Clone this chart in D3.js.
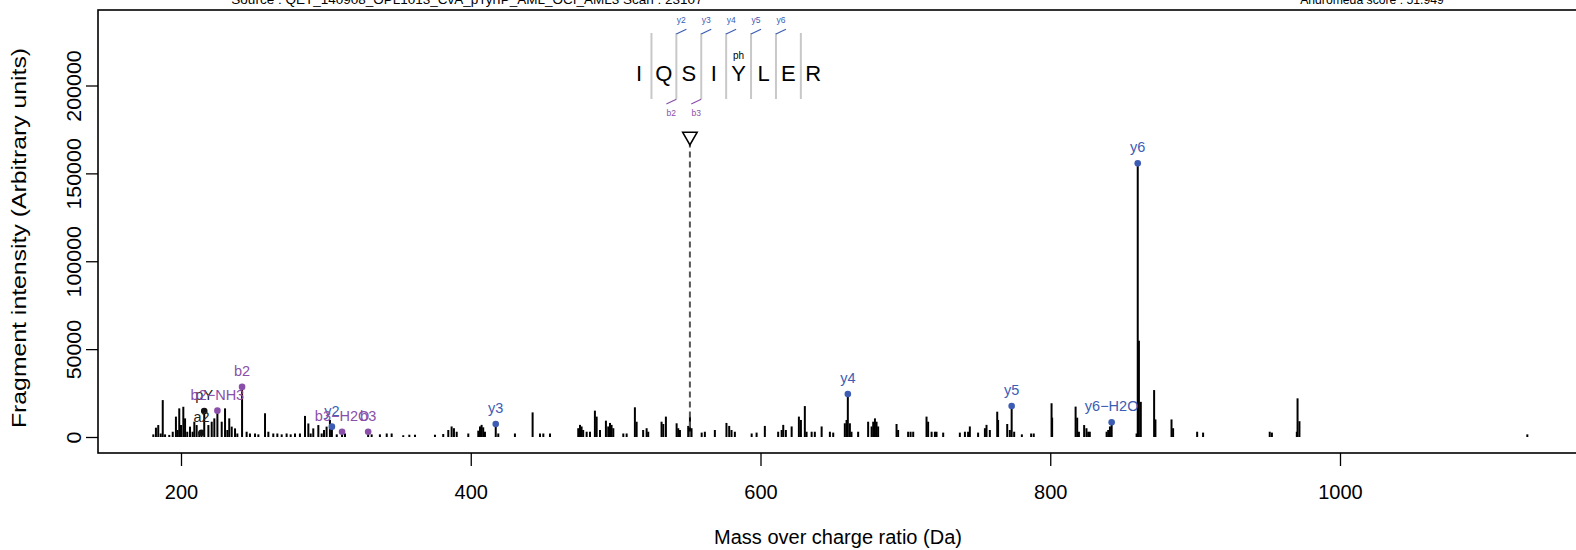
<!DOCTYPE html>
<html><head><meta charset="utf-8">
<script src="https://cdn.jsdelivr.net/npm/d3@7"></script>
<style>body{margin:0;background:#fff}svg{display:block}text{font-family:"Liberation Sans",Arial,sans-serif}</style>
</head><body><div id="chart"></div>
<script>
const peakMz = [180.9,182.7,184.3,186.0,187.4,189.0,191.9,194.3,196.5,197.7,198.8,200.0,201.6,202.8,204.3,206.2,208.0,209.2,210.8,212.6,214.15,216.04,218.9,221.2,223.0,225.12,228.1,230.4,232.0,233.3,235.0,237.3,238.9,242.15,245.3,247.6,251.1,253.4,258.0,260.3,263.7,266.5,269.5,272.9,275.7,278.7,282.1,285.6,287.9,289.5,291.3,294.8,297.1,298.7,300.5,302.8,304.16,307.5,311.17,313.2,329.18,331.6,337.3,342.0,345.4,353.4,357.6,361.5,375.3,381.0,384.5,386.8,388.4,390.3,398.3,405.2,406.4,407.5,408.6,409.8,417.25,419.0,430.5,442.7,447.8,450.1,454.7,474.2,475.4,476.5,477.6,480.0,482.3,485.7,486.9,489.2,493.3,494.9,496.1,497.2,498.4,505.3,507.6,513.3,514.5,519.0,521.4,522.5,531.7,532.9,534.7,542.1,543.2,544.4,550.1,551.3,552.4,559.4,561.6,568.5,576.5,578.4,580.0,582.3,593.9,597.3,603.0,612.2,614.6,615.7,617.5,621.5,626.5,627.9,630.6,631.8,635.3,637.5,642.2,647.9,650.2,658.2,659.4,660.28,661.7,662.8,667.4,674.3,676.7,677.8,679.0,680.1,681.2,693.9,695.0,701.9,703.6,705.4,714.6,715.7,718.1,720.4,721.5,726.1,737.6,741.1,743.3,744.5,750.2,754.9,756.0,758.3,763.4,764.0,770.3,772.1,773.36,775.1,780.4,786.8,788.6,800.9,801.3,817.5,818.6,819.8,823.4,825.0,826.2,827.3,838.9,840.0,841.2,842.38,859.6,860.39,861.2,862.5,871.7,872.6,883.7,884.8,901.4,905.5,951.5,953.0,970.2,970.7,972.0,1129.3];
const peakIntensity = [1500,5300,6800,2000,21000,1500,1200,3000,11600,4000,16300,6800,17200,10600,3000,5900,3000,8700,6800,3000,2400,14800,6800,8700,10600,15000,8700,16300,4000,10600,5900,4900,2000,28500,3000,2000,2000,1500,13500,3000,2000,2000,1500,2000,1500,2000,2000,12000,7700,2000,4900,6800,2000,4000,5900,9700,5900,1500,3000,2000,3000,1500,1500,2000,2000,1000,1300,1300,1300,1700,4000,6000,5000,3000,2000,3600,6000,6900,5500,3000,7400,2000,2000,14000,2000,2000,2000,5000,6900,6000,4000,3000,3000,15000,11600,4000,9300,6000,8000,6900,5000,2000,2000,16900,8700,4000,5000,3000,8700,7400,11600,7800,5000,4000,6300,11600,5000,2500,3000,4000,8000,6300,4000,3000,2000,2500,6300,3000,4000,6900,4000,6000,11600,9700,17600,3000,3000,3000,6000,3000,2500,7800,9700,24500,7800,3000,3000,8700,6000,8700,10600,8700,6000,7400,4000,3000,3000,3000,11600,8700,3000,3000,3000,2500,2500,3000,3000,6000,2500,5000,6900,4000,14400,9700,7400,4000,17600,3000,1500,2000,2000,19200,11000,17300,11000,3000,6800,5000,3000,3000,3000,4000,6000,8400,2000,155700,54800,20000,26700,10000,10000,5000,3000,2500,3000,2500,3000,22000,9000,1500];

const ionLabels = ["a2","pY","b2\u2212NH3","b2","y2","b3\u2212H2O","b3","y3","y4","y5","y6\u2212H2O","y6"];
const ionMz = [214.15,216.04,225.12,242.15,304.16,311.17,329.18,417.25,660.28,773.36,842.38,860.39];
const ionIntensity = [2400,14800,15000,28500,5900,3000,3000,7400,24500,17600,8400,155700];
const ionType = ["other","other","b","b","y","b","b","y","y","y","y","y"];

const precursorMz = 551.27;
const precursorIntensity = 171000;

const sequence = ["I","Q","S","I","Y","L","E","R"];
const modLabels = ["","","","","ph","","",""];
const yMarkLabels = ["y2","y3","y4","y5","y6"];
const bMarkLabels = ["b2","b3"];

const xTicks = [200,400,600,800,1000];
const yTicks = [0,50000,100000,150000,200000];

const titleLeft = "Source : QET_140908_OPL1013_CvA_pTyrIP_AML_OCI_AML3   Scan : 23107";
const titleRight = "Andromeda score : 51.949";
const xTitle = "Mass over charge ratio (Da)";
const yTitle = "Fragment intensity (Arbitrary units)";

const W = 1576, H = 550;
const colors = {y:"#3c5db3", b:"#8a4fa8", other:"#111"};
const box = {left:98, top:10, right:1590, bottom:453};

const x = d3.scaleLinear().domain([200,1000]).range([181,1340]);
const y = d3.scaleLinear().domain([0,200000]).range([437,85.5]);

const svg = d3.select("#chart").append("svg").attr("width",W).attr("height",H);
svg.append("rect").attr("width",W).attr("height",H).attr("fill","#fff");

// titles (partly cut by the top edge, as in the reference)
svg.append("text").attr("x",467).attr("y",4).attr("text-anchor","middle").attr("font-size",13.5).attr("fill","#000").text(titleLeft);
svg.append("text").attr("x",1372).attr("y",4).attr("text-anchor","middle").attr("font-size",12.2).attr("fill","#000").text(titleRight);

// peaks
const peaks = peakMz.map((m,i)=>({mz:m, v:peakIntensity[i]}));
svg.append("g").selectAll("line").data(peaks).join("line")
  .attr("x1",d=>x(d.mz)).attr("x2",d=>x(d.mz))
  .attr("y1",y(0)).attr("y2",d=>y(d.v))
  .attr("stroke","#000").attr("stroke-width",2);

// precursor
svg.append("line").attr("x1",x(precursorMz)).attr("x2",x(precursorMz))
  .attr("y1",y(precursorIntensity)+5).attr("y2",y(0))
  .attr("stroke","#555").attr("stroke-width",2).attr("stroke-dasharray","6,4");
svg.append("path").attr("d",d3.symbol(d3.symbolTriangle,90)())
  .attr("transform",`translate(${x(precursorMz)},${y(precursorIntensity)}) rotate(180)`)
  .attr("fill","#fff").attr("stroke","#000").attr("stroke-width",1.6);

// ion annotations
const ions = ionMz.map((m,i)=>({mz:m, v:ionIntensity[i], label:ionLabels[i], type:ionType[i]}));
svg.append("g").selectAll("circle").data(ions).join("circle")
  .attr("cx",d=>x(d.mz)).attr("cy",d=>y(d.v)).attr("r",3.3)
  .attr("fill",d=>colors[d.type]);
svg.append("g").selectAll("text").data(ions).join("text")
  .attr("x",d=>x(d.mz)).attr("y",d=>y(d.v)-11)
  .attr("text-anchor","middle").attr("font-size",14.5)
  .attr("fill",d=>d.type==="other"?"#222":colors[d.type]).text(d=>d.label);

// box
svg.append("rect").attr("x",box.left).attr("y",box.top)
  .attr("width",box.right-box.left).attr("height",box.bottom-box.top)
  .attr("fill","none").attr("stroke","#000").attr("stroke-width",1.6);

// x axis
const gx = svg.append("g").attr("transform",`translate(0,${box.bottom})`)
  .call(d3.axisBottom(x).tickValues(xTicks).tickSize(13).tickFormat(d3.format("d")));
gx.select(".domain").remove();
gx.selectAll(".tick line").attr("stroke","#000").attr("stroke-width",1.3);
gx.selectAll(".tick text").attr("font-size",20).attr("font-family","Liberation Sans, Arial, sans-serif")
  .attr("fill","#000").attr("y",32).attr("dy","0.71em");

// y axis
const gy = svg.append("g").attr("transform",`translate(${box.left},0)`)
  .call(d3.axisLeft(y).tickValues(yTicks).tickSize(12).tickFormat(d3.format("d")));
gy.select(".domain").remove();
gy.selectAll(".tick line").attr("stroke","#000").attr("stroke-width",1.3);
gy.selectAll(".tick text").attr("font-size",20).attr("font-family","Liberation Sans, Arial, sans-serif")
  .attr("fill","#000").attr("text-anchor","middle")
  .attr("x",0).attr("dy",0).attr("transform","translate(-17,0) rotate(-90) scale(1.07,1)");

// axis titles
svg.append("text").attr("x",838).attr("y",544).attr("text-anchor","middle").attr("font-size",20).text(xTitle);
svg.append("text").attr("transform","translate(26,238) rotate(-90) scale(1.24,1)").attr("text-anchor","middle").attr("font-size",20).text(yTitle);

// peptide sequence annotation
const seqX0 = 639, seqStep = 24.9, seqY = 73;
const sg = svg.append("g");
sequence.forEach((aa,i)=>{
  sg.append("text").attr("x",seqX0+i*seqStep).attr("y",seqY+8).attr("text-anchor","middle")
    .attr("font-size",22).attr("fill","#000").text(aa);
  if (modLabels[i]) sg.append("text").attr("x",seqX0+i*seqStep).attr("y",seqY-14)
    .attr("text-anchor","middle").attr("font-size",10).attr("fill","#000").text(modLabels[i]);
});
for (let i=0;i<sequence.length-1;i++){
  const sx = seqX0+(i+0.5)*seqStep;
  sg.append("line").attr("x1",sx).attr("x2",sx).attr("y1",33).attr("y2",99)
    .attr("stroke","#c8c8c8").attr("stroke-width",2);
}
yMarkLabels.forEach((lab,k)=>{
  const sx = seqX0+(k+1.5)*seqStep;
  sg.append("line").attr("x1",sx).attr("y1",34).attr("x2",sx+10).attr("y2",29.3)
    .attr("stroke",colors.y).attr("stroke-width",1.2);
  sg.append("text").attr("x",sx+5).attr("y",23).attr("text-anchor","middle")
    .attr("font-size",8.5).attr("fill",colors.y).text(lab);
});
bMarkLabels.forEach((lab,k)=>{
  const sx = seqX0+(k+1.5)*seqStep;
  sg.append("line").attr("x1",sx).attr("y1",99.3).attr("x2",sx-10).attr("y2",104)
    .attr("stroke",colors.b).attr("stroke-width",1.2);
  sg.append("text").attr("x",sx-5).attr("y",116).attr("text-anchor","middle")
    .attr("font-size",8.5).attr("fill",colors.b).text(lab);
});
</script></body></html>
